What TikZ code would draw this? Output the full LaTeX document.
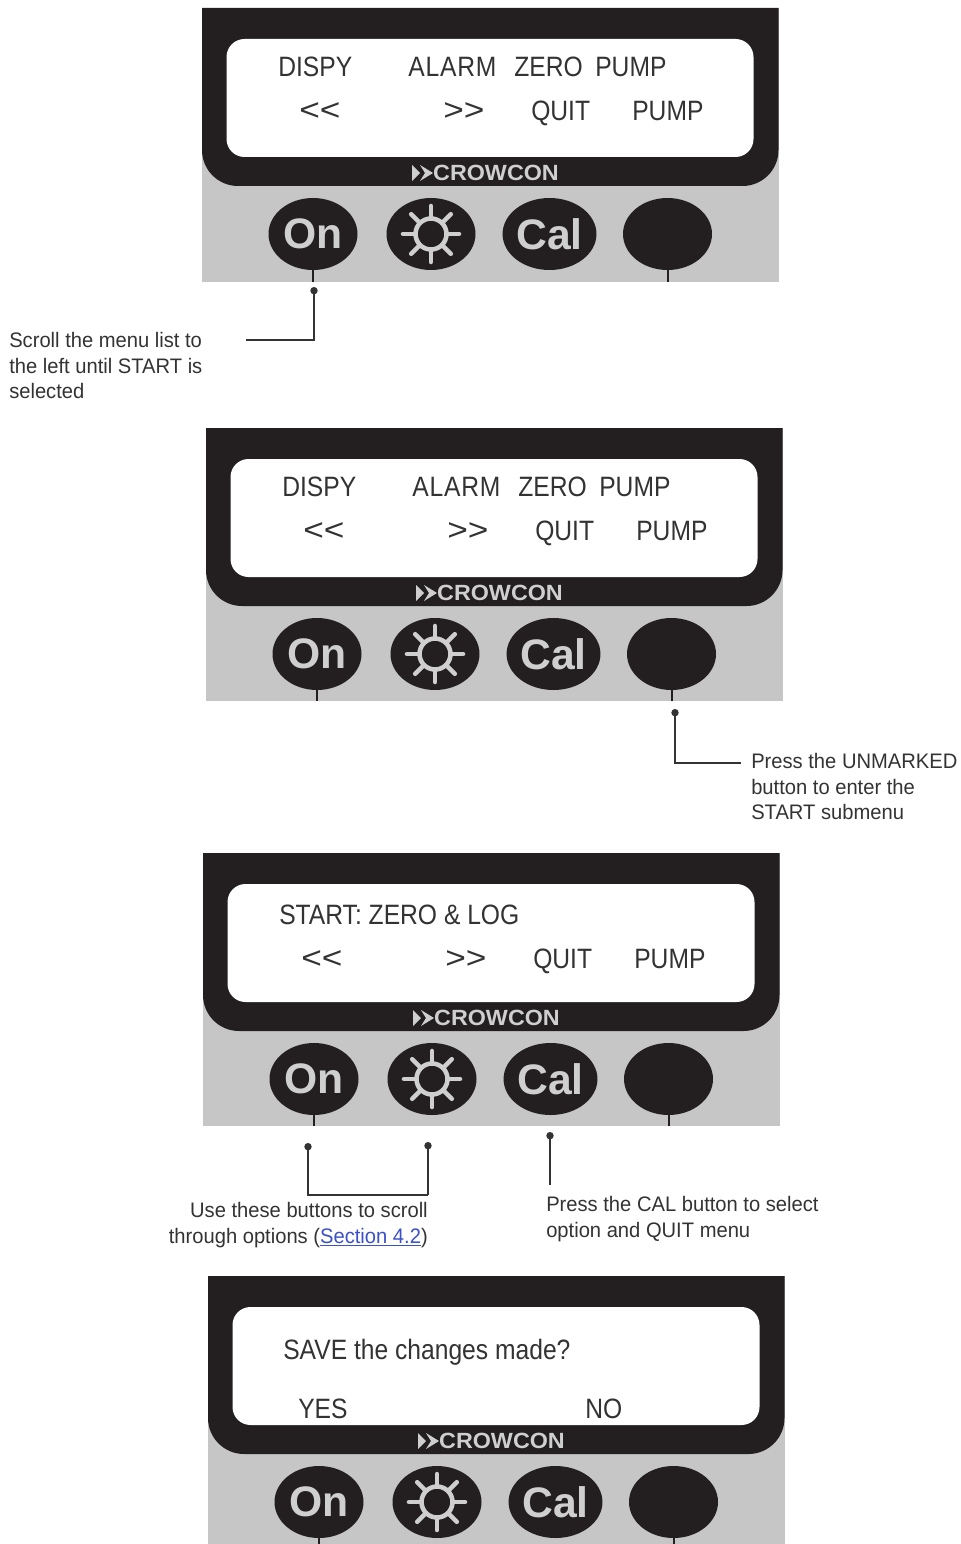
\documentclass[tikz,border=0pt]{standalone}
\usepackage{fontspec}
\setmainfont{Liberation Sans}
\newfontfamily\lcdfont[FakeStretch=0.88]{Liberation Sans}
\newfontfamily\chevfont[FakeStretch=1.15]{Liberation Sans}
\newfontfamily\notefont[FakeStretch=0.96]{Liberation Sans}
\newfontfamily\brandfont[FakeStretch=1.06]{Liberation Sans}
\usetikzlibrary{calc,shapes.geometric,arrows.meta}
\definecolor{casing}{HTML}{231F20}
\definecolor{facia}{HTML}{C6C6C6}
\definecolor{legend}{HTML}{CFCFCF}
\definecolor{ink}{HTML}{333333}
\definecolor{linkblue}{HTML}{3C50C8}
\tikzset{
  lcd/.style={anchor=base west,inner sep=0pt,text=ink,font=\lcdfont\fontsize{21}{25}\selectfont},
  chev/.style={anchor=base west,inner sep=0pt,text=ink,font=\chevfont\fontsize{23}{25}\selectfont},
  btn/.style={ellipse,fill=casing,minimum width=66.75pt,minimum height=54pt,inner sep=0pt,text=legend,font=\bfseries\fontsize{32}{32}\selectfont},
  ray/.style={legend,line width=3.4pt,line cap=round},
  stem/.style={casing,line width=1.5pt},
  note/.style={inner sep=0pt,text=ink,font=\notefont\fontsize{15.75}{19.2}\selectfont},
  callout/.style={ink,line width=1pt},
  calldot/.style={{Circle[length=5.5pt,width=5.5pt]}-},
}
\newcommand{\panel}[4]{
\begin{scope}[shift={(#2,#3)}]
\fill[facia] (0,0) rectangle (576.5,#4);
\fill[casing] (0,0) -- (576.5,0) [rounded corners=27pt] -- (576.5,178) -- (0,178) [sharp corners] -- cycle;
\fill[white,rounded corners=13.5pt] (24.5,31) rectangle (551.5,149);
\fill[legend] (210,157) -- (218,165) -- (210,173) -- cycle;
\fill[legend] (218,157) -- (231,165) -- (218,173) -- (223,165) -- cycle;
\node[inner sep=0pt,text=legend,font=\brandfont\bfseries\fontsize{16.5}{16.5}\selectfont] (#1brand) at (294,165) {CROWCON};
\node[btn] (#1on) at (111,226) {On};
\node[btn] (#1sun) at (229,226) {};
\node[btn] (#1cal) at (347.5,226) {Cal};
\node[btn] (#1off) at (465.5,226) {};
\draw[legend,line width=3.4pt] (#1sun.center) circle (15.5);
\foreach \a in {0,45,...,315}
\draw[ray] ([shift={(\a:16)}]#1sun.center) -- ([shift={(\a:28)}]#1sun.center);
\coordinate (#1onend) at (#1on.south |- 0,#4);
\coordinate (#1offend) at (#1off.south |- 0,#4);
\draw[stem] (#1on.south) -- (#1onend);
\draw[stem] (#1off.south) -- (#1offend);
\end{scope}
}
\newcommand{\softkeys}[3]{
\node[chev] (#1back) at (#2+97,#3) {<{}<};
\node[chev] (#1next) at (#2+241,#3) {>{}>};
\node[lcd] (#1quit) at (#2+329,#3) {QUIT};
\node[lcd] (#1pump) at (#2+430,#3) {PUMP};
}
\newcommand{\alarmword}{\addfontfeature{LetterSpace=3}ALARM}
\begin{document}
\begin{tikzpicture}[x=0.75pt,y=-0.75pt]
\useasboundingbox (0,0) rectangle (960,1544);
\panel{a}{202}{8}{274}
\node[lcd] (adisp) at (278,77) {DISPY};
\node[lcd] (aalarm) at (408,77) {\alarmword};
\node[lcd] (azero) at (514,77) {ZERO};
\node[lcd] (apumpm) at (595,77) {PUMP};
\softkeys{a}{202}{121}
\coordinate (C1) at (314,287);
\coordinate (D1) at (314,340);
\coordinate (E1) at (246,340);
\draw[callout,calldot] (C1)--(D1)--(E1);
\node[note,anchor=north west,align=left] (anote) at (9,332) {Scroll the menu list to\\the left until START is\\selected};
\panel{b}{206}{428}{273}
\node[lcd] (bdisp) at (282,496) {DISPY};
\node[lcd] (balarm) at (412,496) {\alarmword};
\node[lcd] (bzero) at (518,496) {ZERO};
\node[lcd] (bpumpm) at (599,496) {PUMP};
\softkeys{b}{206}{540}
\coordinate (C2) at (675,709);
\coordinate (D2) at (675,763);
\coordinate (E2) at (741,763);
\draw[callout,calldot] (C2)--(D2)--(E2);
\node[note,anchor=north west,align=left] (bnote) at (751,753) {Press the UNMARKED\\button to enter the\\START submenu};
\panel{c}{203}{853}{273}
\node[lcd] (cstart) at (279,924) {START: ZERO \& LOG};
\softkeys{c}{204}{968}
\coordinate (C3) at (308,1143);
\coordinate (C4) at (428,1142);
\coordinate (D3) at (308,1195);
\coordinate (D4) at (428,1195);
\draw[callout,calldot] (C3)--(D3)--(D4);
\draw[callout,calldot] (C4)--(D4);
\node[note,anchor=north east,align=right] (cnote) at (428,1202) {Use these buttons to scroll\\through options (\textcolor{linkblue}{\underline{Section 4.2}})};
\coordinate (C5) at (550,1132);
\coordinate (D5) at (550,1185);
\draw[callout,calldot] (C5)--(D5);
\node[note,anchor=north west,align=left] (dnote) at (546,1196) {Press the CAL button to select\\option and QUIT menu};
\panel{d}{208}{1276}{268}
\node[lcd] (dsave) at (283,1359) {SAVE the changes made?};
\node[lcd] (dyes) at (298,1418) {YES};
\node[lcd] (dno) at (585,1418) {NO};
\end{tikzpicture}
\end{document}
